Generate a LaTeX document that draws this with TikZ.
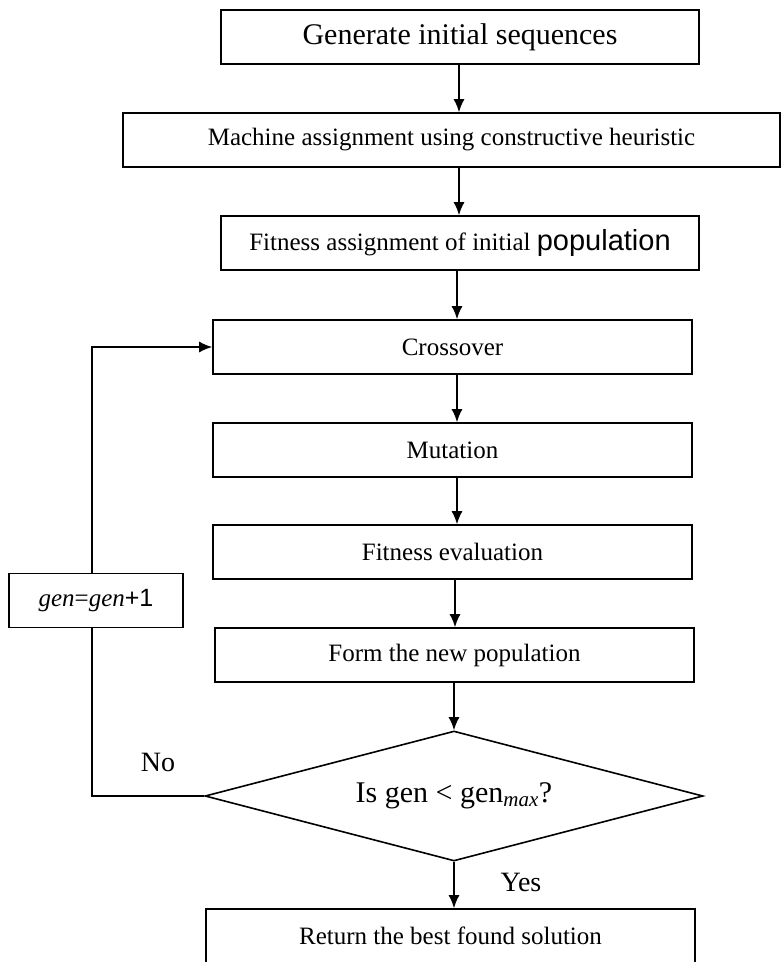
\documentclass[tikz,border=0pt]{standalone}
\usepackage{fontspec}
\setmainfont{Liberation Serif}
\setsansfont{Liberation Sans}
\usetikzlibrary{shapes.geometric,arrows.meta}
\begin{document}
\begin{tikzpicture}[x=1pt, y=-1pt, >={Latex[length=13pt,width=11pt]}, line width=1.6pt,
  blk/.style={draw, minimum height=54pt, inner sep=0pt, font=\fontsize{25}{28}\selectfont},
  test/.style={draw, diamond, aspect=3.83, inner sep=0pt, minimum width=498pt, minimum height=130pt, font=\fontsize{30}{33}\selectfont}]
\useasboundingbox (0,0) rectangle (781,962);
\node[blk, minimum width=478pt, font=\fontsize{30}{33}\selectfont] (init) at (460,37) {Generate initial sequences};
\node[blk, minimum width=657pt] (mach) at (451.5,140) {Machine assignment using constructive heuristic};
\node[blk, minimum width=478pt] (fit0) at (460,243) {Fitness assignment of initial {\sffamily\fontsize{29}{32}\selectfont population}};
\node[blk, minimum width=479pt] (cross) at (452.5,347) {Crossover};
\node[blk, minimum width=479pt] (mut) at (452.5,450) {Mutation};
\node[blk, minimum width=479pt] (eval) at (452.5,552) {Fitness evaluation};
\node[blk, minimum width=479pt] (form) at (454.5,655) {Form the new population};
\node[test] (cond) at (454,796) {Is gen < gen\textsubscript{\textit{max}}?};
\node[blk, minimum width=489pt] (ret) at (450.5,936) {Return the best found solution};
\node[blk, minimum width=174pt] (inc) at (96,600.5) {\textit{gen}=\textit{gen}{\sffamily +1}};
\node[font=\fontsize{28}{31}\selectfont] (no) at (158,762) {No};
\node[font=\fontsize{28}{31}\selectfont] (yes) at (521,882) {Yes};
\draw[->] (init.south -| 459,0) -- (mach.north -| 459,0);
\draw[->] (mach.south -| 459,0) -- (fit0.north -| 459,0);
\draw[->] (fit0.south -| 457,0) -- (cross.north -| 457,0);
\draw[->] (cross.south -| 457,0) -- (mut.north -| 457,0);
\draw[->] (mut.south -| 457,0) -- (eval.north -| 457,0);
\draw[->] (eval.south -| 455,0) -- (form.north -| 455,0);
\draw[->] (form.south -| cond) -- (cond.north);
\draw[->] (cond.south) -- (ret.north -| cond);
% loop back
\draw (cond.west) -- (cond.west -| 92,0) -- (inc.south -| 92,0);
\draw[->] (inc.north -| 92,0) |- (cross.west);
\end{tikzpicture}
\end{document}
